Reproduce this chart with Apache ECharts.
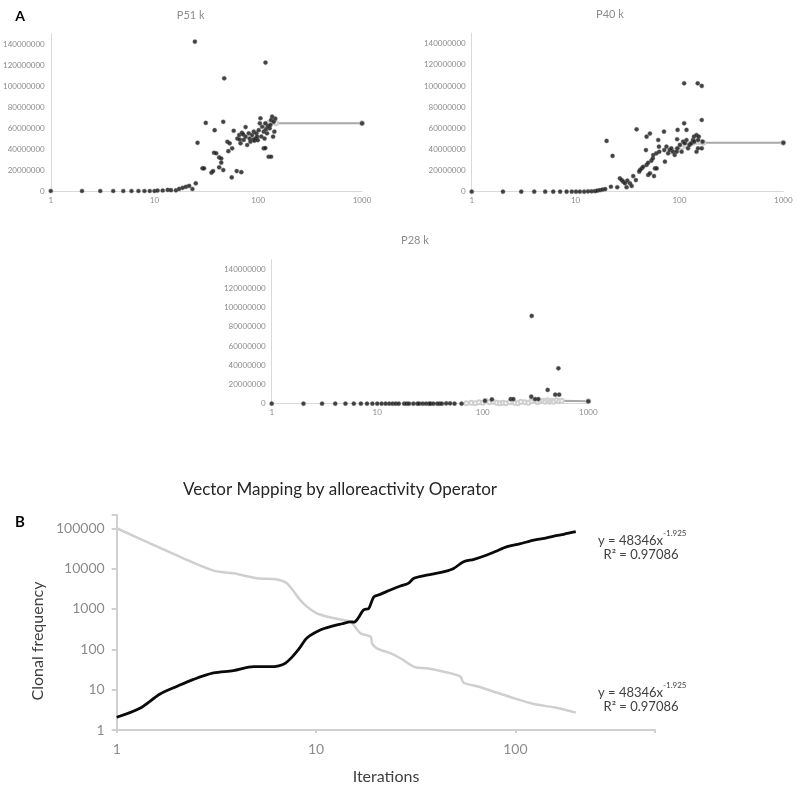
<!DOCTYPE html>
<html>
<head>
<meta charset="utf-8">
<script src="https://cdn.jsdelivr.net/npm/echarts@6/dist/echarts.min.js"></script>
<style>html,body{margin:0;padding:0;background:#fff;}#c{width:800px;height:791px;}</style>
</head>
<body>
<div id="c"></div>
<script>
// ---------- Panel A data ----------
const panelTitles = ['P51 k', 'P40 k', 'P28 k'];
const scatterYTicks = [0, 20000000, 40000000, 60000000, 80000000, 100000000, 120000000, 140000000];
const logXTicksA = [1, 10, 100, 1000];

const p51Points = [
  [1,0],[2,0],[3,0],[4,0],[5,0],[6,0],[7,0],[8,0],[9,0],[10,0],[10.7,0.4e6],[12,0.5e6],[13.4,1e6],[14.4,0.8e6],
  [16.1,0.6e6],[17.3,2e6],[18.7,3e6],[20.1,4e6],[21.6,4.8e6],[23.2,1.9e6],[25,7.3e6],
  [24.5,142.5e6],[26,46e6],[29,21.6e6],[30,21.6e6],[31.2,65e6],[35.4,17.5e6],[36.7,19e6],[37.5,36.5e6],
  [38,58e6],[39.3,36e6],[42,32e6],[42,22.6e6],[44,31e6],[44,27e6],[46,66e6],[46,20e6],[47,107.5e6],
  [50.4,47e6],[51.5,38e6],[53,45.5e6],[55.5,13e6],[56,40.7e6],[58,57.5e6],[62,19e6],[68.7,18e6],
  [62.9,50e6],[65.5,53.4e6],[66.5,49e6],[67.5,45.5e6],[69.6,55.6e6],[71.5,54e6],[72.5,48.7e6],[75.5,61e6],
  [75.5,51.8e6],[78.2,43.9e6],[81,55e6],[82.6,50e6],[84,47e6],[87.2,53.4e6],[89.5,49e6],[90.5,56.6e6],
  [92,48e6],[94,50e6],[96,55e6],[97.5,51.8e6],[99,48.5e6],[101,58e6],[103.6,64.6e6],[105,69.4e6],
  [107,52e6],[109,61.3e6],[113,56.6e6],[113,40.7e6],[115,50e6],[117,64.6e6],[117,41e6],[117.5,122.5e6],
  [119,59e6],[121.5,55e6],[124,62e6],[126,32.7e6],[129,59.8e6],[131,63e6],[133,32.7e6],[133,67.7e6],
  [136,70.9e6],[139,51.8e6],[141,66e6],[143,56.6e6],[146,69e6],[1000,64.6e6]
];
const p51Trend = [[120,63e6],[126,65e6],[133,66.5e6],[140,65.5e6],[148,64.6e6],[1000,64.6e6]];

const p40Points = [
  [1,0],[2,0],[3,0],[4,0],[5.1,0],[6.1,0],[7.1,0],[8.2,0],[9.2,0],[10.1,0],[11,0],[12.1,0],[13.2,0.3e6],
  [14.3,0.4e6],[15.4,0.5e6],[16.2,1e6],[17.2,1.5e6],[18.2,2e6],[19.3,2.5e6],
  [19.9,48e6],[21.9,4.7e6],[22.7,33.8e6],[25.2,4.2e6],[26.7,12.6e6],[27.8,11e6],[28.8,9.5e6],[29.9,7.9e6],
  [31,4.2e6],[31.5,10.4e6],[33.4,7.9e6],[34.7,5.4e6],[35.9,14.8e6],[38.1,11e6],[38.7,59e6],[41,18.9e6],
  [41.7,20.5e6],[43.3,22e6],[44.8,23.6e6],[47.6,39.4e6],[48.3,52e6],[48.3,25.3e6],[50,27.4e6],[50,15.8e6],
  [52,55e6],[52,17.4e6],[53.7,29.3e6],[55.5,31.6e6],[56.9,14.8e6],[58.1,22e6],[60.3,22e6],[56,34.7e6],
  [60,36.3e6],[62.5,48.9e6],[63.5,42.6e6],[64,37.8e6],[71,56.8e6],[71.4,39.4e6],[72.5,28.4e6],[75,42.6e6],
  [77.8,36.3e6],[80.5,39.4e6],[83.5,41e6],[86.7,37.8e6],[90,34.7e6],[94,37.8e6],[95.5,41e6],[96,58.4e6],
  [95,49.6e6],[101,44.2e6],[105,37.8e6],[108.5,47.3e6],[111,64.7e6],[111,102.5e6],[112.7,45.8e6],
  [117,48.9e6],[117,58.4e6],[121,41e6],[125,44.2e6],[130,45.8e6],[135,48.9e6],[138,52e6],[139,47.3e6],
  [146,53.6e6],[146,37.8e6],[150,102.5e6],[151,48.9e6],[151,41e6],[153.6,52e6],[164,67.8e6],[164,100e6],
  [164,41e6],[167,47.3e6],[1000,46.2e6]
];
const p40Trend = [[85,38e6],[95,40e6],[105,42e6],[115,44e6],[125,45e6],[135,46e6],[145,47e6],[158,47e6],[170,46.4e6],[1000,46.4e6]];

const p28Points = [
  [1,0],[2,0],[3,0],[4,0],[5,0],[6,0],[7,0],[8,0],[9,0],[10,0],[11,0],[12,0],[13,0],[14,0],[15,0],[16,0],
  [18,0],[19,0],[20,0],[22,0],[24,0],[25,0],[27,0],[29,0],[31,0],[32,0],[34,0],[37,0],[39,0],[41,0],
  [45,0.3e6],[49,0.3e6],[54,0],[63,0],[105,3e6],[122,4.5e6],[184,4.8e6],[195,4.8e6],[288,7.3e6],
  [291,91.4e6],[313,4.8e6],[336,4.8e6],[412,14.3e6],[486,9.4e6],[521,36.9e6],[530,9.4e6],[1000,2.5e6]
];
const p28Trend = [
  [70,0.5e6],[78,1e6],[85,0.5e6],[92,1.5e6],[100,1e6],[106,3e6],[115,1.5e6],[125,2e6],[135,1e6],[145,0.5e6],
  [155,1e6],[165,0.5e6],[180,1.5e6],[200,1e6],[215,0.5e6],[230,2e6],[250,1.5e6],[270,1e6],[290,2.5e6],
  [310,3e6],[330,1.5e6],[350,2.5e6],[370,3e6],[390,2e6],[410,3.5e6],[430,2e6],[450,3e6],[470,2e6],
  [500,3.5e6],[530,2.5e6],[560,3e6],[1000,2.5e6]
];

// ---------- Panel B data ----------
const titleB = 'Vector Mapping by alloreactivity Operator';
const xNameB = 'Iterations';
const yNameB = 'Clonal frequency';
const equationMain = 'y = 48346x';
const equationExp = '-1.925';
const equationR2 = 'R² = 0.97086';
const increasingSeries = [
  [1,2.07],[1.3,3.4],[1.65,7.8],[2,12],[2.43,18],[3.06,26],[3.85,29.5],[4.86,37],[5.9,37],[6.5,39],[7,45],
  [7.6,65],[8.3,110],[9,190],[10.5,300],[12.2,380],[13.5,430],[14.9,480],[15.5,470],[16.3,600],[17.3,940],
  [18.4,1040],[19.5,2000],[21,2300],[23.6,2950],[26.5,3700],[29,4300],[31,5750],[35,6700],[39,7400],
  [44,8400],[49,10100],[55,14800],[62,17000],[72,21800],[80,27000],[91,35000],[105,41000],[124,51000],
  [140,56000],[156,64000],[175,71000],[201,82000]
];
const decreasingSeries = [
  [1,100000],[1.47,42000],[2.16,18000],[3.06,8900],[3.85,7650],[5.05,5750],[6.37,5400],[7.15,4300],
  [8.3,1700],[9,1140],[10,800],[11.4,640],[13.2,550],[14.9,480],[16.7,250],[18.8,205],[19.1,140],[20.2,106],
  [23.6,80],[26.5,60],[31.5,36],[36,34],[45,27],[53,21],[55,14.8],[65,12],[78,8.9],[95,6.5],[124,4.4],
  [156,3.65],[201,2.7]
];

const FONT = 'Lato, "Open Sans", sans-serif';
const GRAY_TXT = '#8c8c8c';

const chart = echarts.init(document.getElementById('c'), null, {renderer: 'canvas'});

const gridsA = [
  {left: 49.3, top: 33.8, width: 312.7, height: 157.2},
  {left: 471.7, top: 33.1, width: 311.6, height: 158.6},
  {left: 271.7, top: 259.7, width: 316.6, height: 144}
];
const gridB = {left: 116.7, top: 515, width: 538.3, height: 215};

const xAxes = [], yAxes = [];
gridsA.forEach((g, i) => {
  xAxes.push({
    type: 'log', logBase: 10, gridIndex: i, min: logXTicksA[0], max: logXTicksA[logXTicksA.length - 1],
    axisLine: {lineStyle: {color: '#d9d9d9', width: 1}}, axisTick: {show: false}, splitLine: {show: false},
    axisLabel: {fontSize: 8, color: GRAY_TXT, fontFamily: FONT, margin: 5, formatter: v => String(Math.round(v))}
  });
  yAxes.push({
    type: 'value', gridIndex: i, min: scatterYTicks[0], max: 150000000, interval: 20000000,
    axisLine: {show: true, lineStyle: {color: '#d9d9d9', width: 1}}, axisTick: {show: false}, splitLine: {show: false},
    axisLabel: {fontSize: 8, color: GRAY_TXT, fontFamily: FONT, margin: 6,
      formatter: v => (scatterYTicks.indexOf(v) >= 0 ? String(v) : '')}
  });
});
xAxes.push({
  type: 'log', logBase: 10, gridIndex: 3, min: 1, max: 502,
  axisLine: {lineStyle: {color: '#d0d0d0', width: 2}},
  axisTick: {show: true, length: 3, lineStyle: {color: '#d0d0d0', width: 2}}, splitLine: {show: false},
  axisLabel: {fontSize: 14, color: GRAY_TXT, fontFamily: FONT, margin: 12,
    formatter: v => (v <= 101 ? String(Math.round(v)) : '')}
});
yAxes.push({
  type: 'log', logBase: 10, gridIndex: 3, min: 1, max: 213000,
  axisLine: {show: true, lineStyle: {color: '#d0d0d0', width: 2}},
  axisTick: {show: true, length: 5, lineStyle: {color: '#d0d0d0', width: 2}}, splitLine: {show: false},
  axisLabel: {fontSize: 14, color: GRAY_TXT, fontFamily: FONT, margin: 12,
    formatter: v => (v <= 100001 ? String(Math.round(v)) : '')}
});

const pointSets = [p51Points, p40Points, p28Points];
const trendSets = [p51Trend, p40Trend, p28Trend];
const series = [];
trendSets.forEach((t, i) => {
  series.push({
    type: 'line', xAxisIndex: i, yAxisIndex: i, data: t, z: 2,
    symbol: 'emptyCircle', symbolSize: 4, showAllSymbol: true,
    lineStyle: {color: '#a8a8a8', width: 2}, itemStyle: {color: '#cfcfcf', borderWidth: 1}
  });
});
pointSets.forEach((p, i) => {
  series.push({
    type: 'scatter', xAxisIndex: i, yAxisIndex: i, data: p, z: 3,
    symbol: 'circle', symbolSize: 4.2,
    itemStyle: {color: '#141414', borderColor: '#6a6a6a', borderWidth: 0.5}
  });
});
series.push({
  type: 'line', xAxisIndex: 3, yAxisIndex: 3, data: decreasingSeries, showSymbol: false, smooth: 0.3,
  lineStyle: {color: '#cfcfcf', width: 2.5}, z: 2
});
series.push({
  type: 'line', xAxisIndex: 3, yAxisIndex: 3, data: increasingSeries, showSymbol: false, smooth: 0.3,
  lineStyle: {color: '#0a0a0a', width: 2.8}, z: 3
});

function txt(text, x, y, size, color, opts) {
  return Object.assign({
    type: 'text', x: x, y: y,
    style: {text: text, fontSize: size, fontFamily: FONT, fill: color, align: 'center', verticalAlign: 'middle',
      fontWeight: (opts && opts.bold) ? 'bold' : 'normal'}
  }, opts && opts.extra ? opts.extra : {});
}
function equation(x, y) {
  return {
    type: 'text', x: x, y: y,
    style: {
      text: '{a|' + equationMain + '}{s|' + equationExp + '}',
      fontFamily: FONT, fill: '#404040', align: 'left', verticalAlign: 'middle',
      rich: {
        a: {fontSize: 13, fontFamily: FONT, fill: '#404040', lineHeight: 18, verticalAlign: 'bottom'},
        s: {fontSize: 8, fontFamily: FONT, fill: '#404040', lineHeight: 18, verticalAlign: 'top'}
      }
    }
  };
}

const graphic = [
  txt('A', 20, 16, 14, '#000', {bold: true}),
  txt(panelTitles[0], 190.7, 15, 11, GRAY_TXT),
  txt(panelTitles[1], 610, 14, 11, GRAY_TXT),
  txt(panelTitles[2], 415, 240.7, 11, GRAY_TXT),
  txt(titleB, 340, 490, 17, '#262626'),
  txt('B', 20, 522, 15, '#000', {bold: true}),
  txt(xNameB, 386, 777, 16, '#404040'),
  txt(yNameB, 38, 641, 16, '#404040', {extra: {rotation: Math.PI / 2}}),
  equation(598, 538),
  {type: 'text', x: 641, y: 555, style: {text: equationR2, fontSize: 13, fontFamily: FONT, fill: '#404040', align: 'center', verticalAlign: 'middle'}},
  equation(598, 690),
  {type: 'text', x: 641, y: 707, style: {text: equationR2, fontSize: 13, fontFamily: FONT, fill: '#404040', align: 'center', verticalAlign: 'middle'}}
];

chart.setOption({
  animation: false,
  backgroundColor: '#fff',
  grid: gridsA.concat([gridB]),
  xAxis: xAxes,
  yAxis: yAxes,
  series: series,
  graphic: graphic
});
</script>
</body>
</html>
